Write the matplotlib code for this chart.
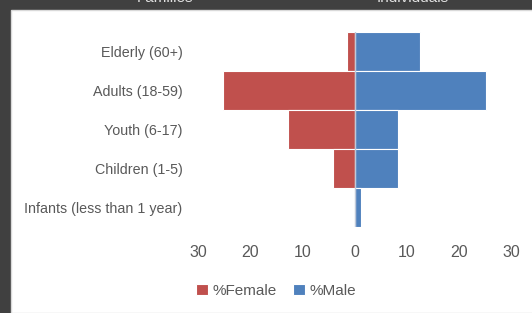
import matplotlib
matplotlib.use("Agg")
import matplotlib.pyplot as plt
from matplotlib.patches import Rectangle

categories = ["Elderly (60+)", "Adults (18-59)", "Youth (6-17)",
              "Children (1-5)", "Infants (less than 1 year)"]
female = [1.4, 25.3, 12.7, 4.2, 0.0]
male = [12.6, 25.2, 8.4, 8.4, 1.3]
xticks = [-30, -20, -10, 0, 10, 20, 30]
xticklabels = ["30", "20", "10", "0", "10", "20", "30"]

red = "#C0504D"
blue = "#4F81BD"
txt = "#595959"

plt.rcParams["font.family"] = ["Liberation Sans", "DejaVu Sans"]

fig = plt.figure(figsize=(5.32, 3.13), dpi=100, facecolor="#404040")
# white chart area inside the dark frame
fig.patches.append(Rectangle((11 / 532, 0), 1, 1 - 10 / 313, transform=fig.transFigure,
                             facecolor="white", edgecolor="#d9d9d9", linewidth=1, zorder=-5))
# headers cut off at the top
fig.text(165 / 532, 1 - 2 / 313, "Families", color="#e0e0e0", ha="center", va="baseline", fontsize=11)
fig.text(413 / 532, 1 - 2 / 313, "Individuals", color="#e0e0e0", ha="center", va="baseline", fontsize=11)

ax = fig.add_axes([198 / 532, 1 - 227 / 313, 313 / 532, (227 - 31.7) / 313])
ax.set_facecolor("none")
y = list(range(len(categories)))
ax.barh(y, [-v for v in female], height=1.0, color=red, edgecolor="white", linewidth=0.8, label="%Female")
ax.barh(y, male, height=1.0, color=blue, edgecolor="white", linewidth=0.8, label="%Male")
ax.axvline(0, color="#bfc9d9", linewidth=1, zorder=3)

ax.set_xlim(-30, 30)
ax.set_ylim(len(categories) - 0.5, -0.5)
ax.set_yticks(y)
ax.set_yticklabels(categories, fontsize=10.3, color=txt)
ax.set_xticks(xticks)
ax.set_xticklabels(xticklabels, fontsize=11.5, color=txt)
ax.tick_params(length=0)
ax.tick_params(axis="y", pad=11)
ax.tick_params(axis="x", pad=13)
for s in ax.spines.values():
    s.set_visible(False)

fig.legend(loc="center", bbox_to_anchor=(276 / 532, 1 - 291 / 313), ncol=2, frameon=False,
           fontsize=11, labelcolor=txt, handlelength=0.75, handleheight=0.75,
           handletextpad=0.3, columnspacing=1.1)

fig.savefig("out.png", dpi=100, facecolor=fig.get_facecolor())
